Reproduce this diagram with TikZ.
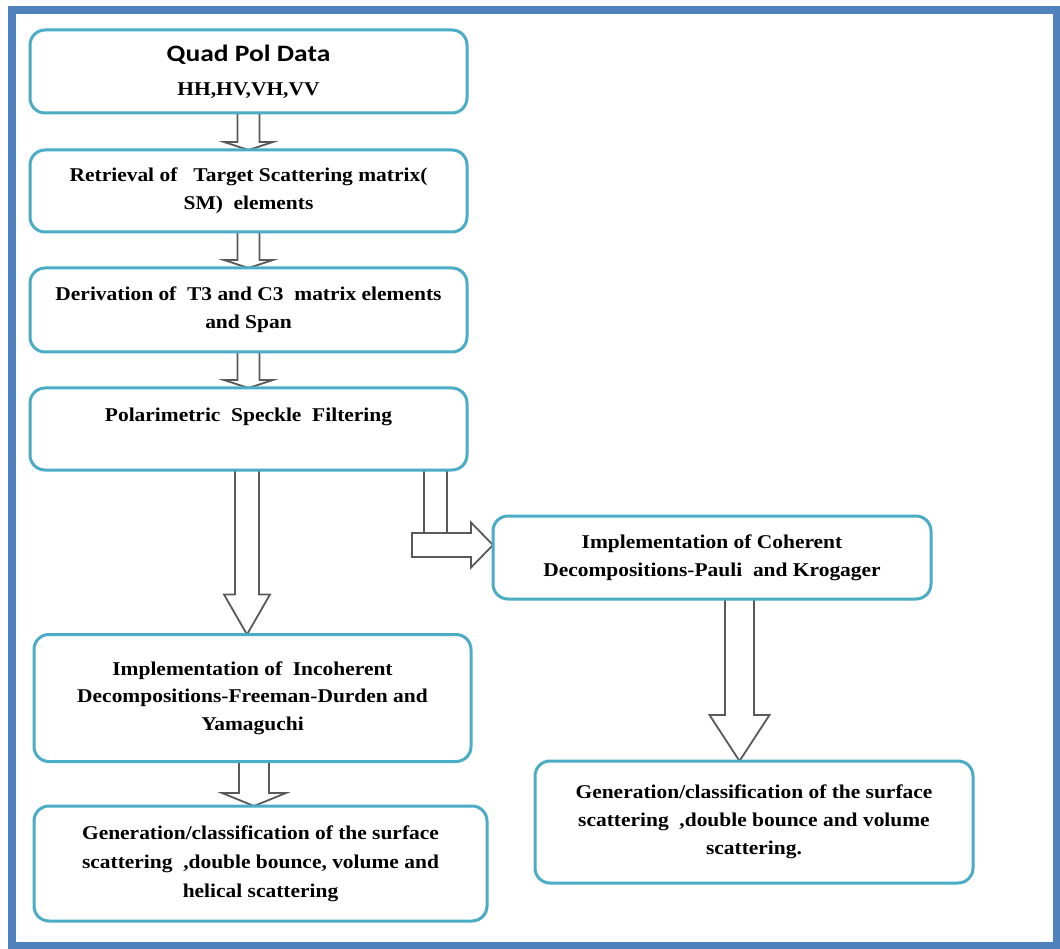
\documentclass[tikz,border=0pt]{standalone}
\usepackage{fontspec}
\setmainfont{Liberation Serif}[FakeStretch=1.1]
\newfontfamily\calfont{Carlito}[FakeStretch=1.17]
\usetikzlibrary{calc,backgrounds}
\definecolor{framecol}{HTML}{4F81BD}
\definecolor{boxcol}{HTML}{4BACC6}
\definecolor{arrcol}{HTML}{595959}
\newcommand{\blkdown}[6]{\draw[blk] let \p1=([xshift=#3]#1.south), \p2=([xshift=#3]#2.north) in
  (\x1-#4,\y1) -- (\x1-#4,\y2+#6) -- (\x1-#5,\y2+#6) -- (\x1,\y2) -- (\x1+#5,\y2+#6) -- (\x1+#4,\y2+#6) -- (\x1+#4,\y1) -- cycle;}
\begin{document}
\begin{tikzpicture}[x=1pt,y=-1pt,
  box/.style={draw=boxcol, line width=3pt, rounded corners=15pt, fill=white, align=center,
    inner sep=0pt, outer sep=0pt, text=black},
  tx/.style={font=\bfseries\fontsize{19.5}{#1}\selectfont},
  blk/.style={draw=arrcol, line width=1.8pt, fill=white, line join=miter},
]
\useasboundingbox (0,0) rectangle (1060,949);
\draw[framecol, line width=8pt] (12,10.5) rectangle (1056.5,945.5);

\node[box, tx=28, minimum width=437pt, minimum height=83pt] (b1) at (248.5,71.5)
  {{\calfont\fontsize{23.5}{28}\selectfont Quad Pol Data}\\[6pt]HH,HV,VH,VV};
\node[box, tx=28, minimum width=437pt, minimum height=82pt] (b2) at (248.5,191)
  {Retrieval of\ \ \ Target Scattering matrix(\\SM)\ \ elements};
\node[box, tx=28, minimum width=437pt, minimum height=84pt] (b3) at (248.5,310)
  {Derivation of\ \ T3 and C3\ \ matrix elements\\and Span};
\node[box, tx=28, minimum width=437pt, minimum height=82pt] (b4) at (248.5,429)
  {Polarimetric\ \ Speckle\ \ Filtering\\\mbox{}};
\node[box, tx=27.5, minimum width=437pt, minimum height=127pt] (b5) at (252.5,698)
  {Implementation of\ \ Incoherent\\Decompositions-Freeman-Durden and\\Yamaguchi};
\node[box, tx=29, minimum width=453pt, minimum height=115pt] (b6) at (260.5,863.5)
  {Generation/classification of the surface\\scattering\ \ ,double bounce, volume and\\helical scattering};
\node[box, tx=28, minimum width=438pt, minimum height=83pt] (b7) at (712,557.5)
  {Implementation of Coherent\\Decompositions-Pauli\ \ and Krogager};
\node[box, tx=28, minimum width=438pt, minimum height=122pt] (b8) at (754,822)
  {Generation/classification of the surface\\scattering\ \ ,double bounce and volume\\scattering.};

\begin{scope}[on background layer]
\blkdown{b1}{b2}{0pt}{11pt}{24.5pt}{8pt}
\blkdown{b2}{b3}{0pt}{11pt}{24.5pt}{8pt}
\blkdown{b3}{b4}{0pt}{11pt}{24.5pt}{8pt}
\blkdown{b4}{b5}{-1.5pt}{12pt}{23pt}{40pt}
\blkdown{b5}{b6}{1.5pt}{15pt}{32pt}{13pt}
\blkdown{b7}{b8}{27.5pt}{14.5pt}{30pt}{46pt}
\draw[blk] let \p1=([xshift=187pt]b4.south), \p2=([yshift=12.5pt]b7.west) in
  (\x1-11.5pt,\y1) -- (\x1-11.5pt,\y2+12pt) -- (\x1+11.5pt,\y2+12pt) -- (\x1+11.5pt,\y1);
\draw[blk] let \p1=([xshift=187pt]b4.south), \p2=([yshift=12.5pt]b7.west) in
  (\x1-23.5pt,\y2+12pt) -- (\x2-22pt,\y2+12pt) -- (\x2-22pt,\y2+22.5pt) -- (\x2,\y2)
  -- (\x2-22pt,\y2-22.5pt) -- (\x2-22pt,\y2-12pt) -- (\x1-23.5pt,\y2-12pt) -- cycle;
\end{scope}
\end{tikzpicture}
\end{document}
